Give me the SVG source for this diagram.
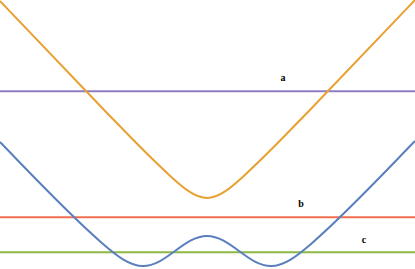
<svg xmlns="http://www.w3.org/2000/svg" width="415" height="269" viewBox="0 0 415 269">
<style>
.c{fill:none;stroke-width:2;stroke-linecap:butt;stroke-linejoin:round}
.lbl{font-family:"Liberation Serif",serif;font-weight:bold;font-size:10px;fill:#000;text-anchor:middle}
</style>
<rect width="415" height="269" fill="#fff"/>
<g id="connectors">
<line id="line-a" class="c" x1="0" y1="91.3" x2="415" y2="91.3" stroke="#8E7CC3"/>
<line id="line-b" class="c" x1="0" y1="217.3" x2="415" y2="217.3" stroke="#EF6F4F"/>
<line id="line-c" class="c" x1="0" y1="252.3" x2="415" y2="252.3" stroke="#8DB845"/>
<path id="upper" class="c" stroke="#E8A030" d="M0,1 C35.67,38.52 71.33,76.1 107,112.95 C128.33,134.99 149.67,157.37 171,176.64 C183,187.48 195,198 207,198 C219,198 231,187.48 243,176.64 C264.33,157.37 285.67,134.99 307,112.95 C342.67,76.1 378.33,38.52 414,1 L415,0"/>
<path id="lower" class="c" stroke="#5A7FBF" d="M0,142 C34.33,177.4 68.67,214.2 103,243.9 C116.33,255.43 129.67,266 143,266 C166.3,266 183.7,236 207,236 C230.3,236 247.7,266 271,266 C284.33,266 297.67,255.43 311,243.9 C345.33,214.2 379.67,177.4 414,142 L415,141"/>
</g>
<g id="label-a"><text class="lbl" x="283" y="81">a</text></g>
<g id="label-b"><text class="lbl" x="301" y="207">b</text></g>
<g id="label-c"><text class="lbl" x="364" y="243">c</text></g>
</svg>
